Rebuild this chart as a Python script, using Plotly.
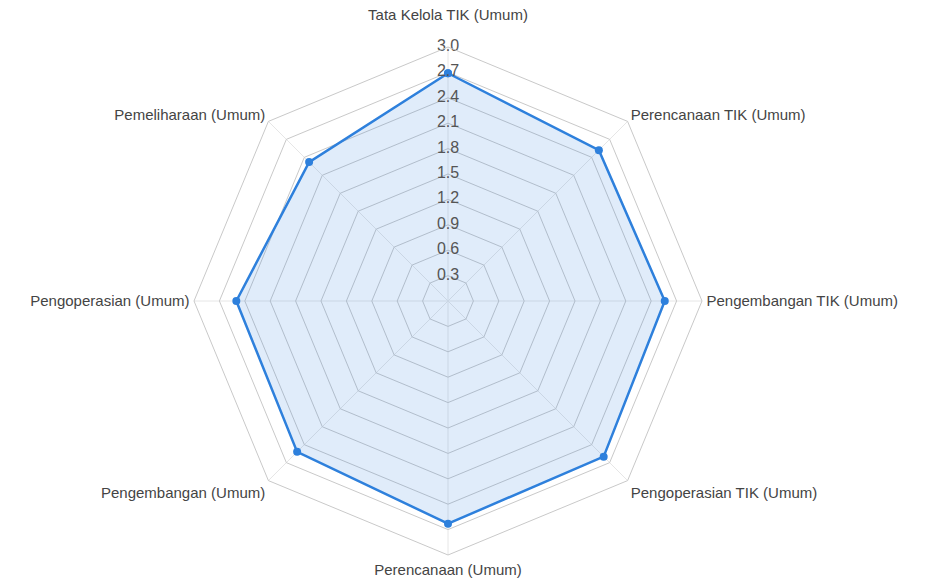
import plotly.graph_objects as go

categories = [
    "Tata Kelola TIK (Umum)",
    "Perencanaan TIK (Umum)",
    "Pengembangan TIK (Umum)",
    "Pengoperasian TIK (Umum)",
    "Perencanaan (Umum)",
    "Pengembangan (Umum)",
    "Pengoperasian (Umum)",
    "Pemeliharaan (Umum)",
]
values = [2.69, 2.52, 2.56, 2.60, 2.63, 2.52, 2.50, 2.32]
tick_values = [0.3, 0.6, 0.9, 1.2, 1.5, 1.8, 2.1, 2.4, 2.7, 3.0]
tick_labels = ["0.3", "0.6", "0.9", "1.2", "1.5", "1.8", "2.1", "2.4", "2.7", "3.0"]

# the top category label sits higher above the chart in the reference
category_ticktext = [categories[0] + "<br> "] + categories[1:]

line_color = "rgb(46,128,220)"

fig = go.Figure()
fig.add_trace(go.Scatterpolar(
    r=values + [values[0]],
    theta=categories + [categories[0]],
    mode="lines+markers",
    fill="toself",
    fillcolor="rgba(46,128,220,0.15)",
    line=dict(color=line_color, width=2.5),
    marker=dict(color=line_color, size=8),
    hoverinfo="r+theta",
    showlegend=False,
))
fig.add_trace(go.Scatterpolar(
    r=tick_values,
    theta=[categories[0]] * len(tick_values),
    mode="text",
    text=tick_labels,
    textfont=dict(family="Liberation Sans, Arial, sans-serif", size=16, color="#555555"),
    textposition="middle center",
    hoverinfo="skip",
    showlegend=False,
))

fig.update_layout(
    width=928,
    height=580,
    paper_bgcolor="white",
    plot_bgcolor="white",
    margin=dict(l=186, r=234, t=39, b=33),
    font=dict(family="Liberation Sans, Arial, sans-serif", color="#444444"),
    polar=dict(
        bgcolor="white",
        gridshape="linear",
        radialaxis=dict(
            range=[0, 3.0],
            tickvals=tick_values,
            showticklabels=False,
            ticks="",
            showline=False,
            gridcolor="#c9c9c9",
            gridwidth=1,
            angle=90,
        ),
        angularaxis=dict(
            rotation=90,
            direction="clockwise",
            tickmode="array",
            tickvals=categories,
            ticktext=category_ticktext,
            tickfont=dict(size=15, color="#444444"),
            ticks="outside",
            ticklen=1,
            tickcolor="rgba(0,0,0,0)",
            showline=True,
            linecolor="#c9c9c9",
            linewidth=1,
            gridcolor="#e6e6e6",
            gridwidth=1,
        ),
    ),
)

fig.write_html("out.html")
